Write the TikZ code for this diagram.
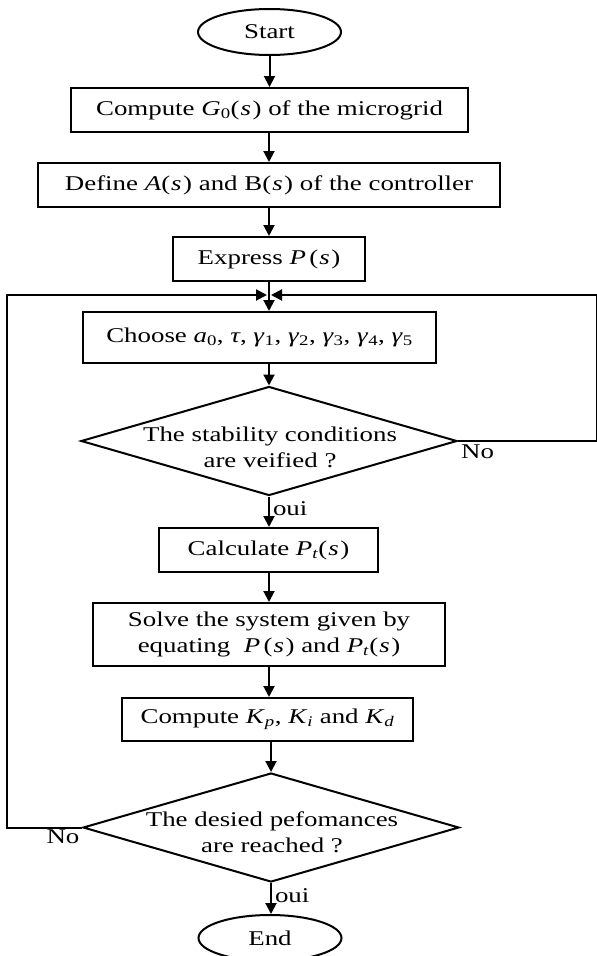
\documentclass[tikz,border=0pt]{standalone}
\usepackage{fontspec}
\setmainfont{Liberation Serif}[FakeStretch=1.28]
\usetikzlibrary{shapes.geometric,arrows.meta,calc}
\newcommand{\mi}[1]{\textit{#1}}
\newcommand{\sbs}[1]{\textsubscript{#1}}
\newcommand{\ofs}{(\kern1pt\mi{s}\kern1.5pt)}
\begin{document}
\begin{tikzpicture}[x=1pt,y=-1pt,
  every node/.style={font=\fontsize{21}{26}\selectfont},
  proc/.style={draw,line width=2pt,rectangle,inner sep=0pt,align=center},
  term/.style={draw,line width=2pt,ellipse,inner sep=0pt,minimum width=143pt,minimum height=46pt},
  decis/.style={draw,line width=2pt,diamond,shape aspect=3.45,inner sep=0pt,minimum width=376pt,minimum height=109pt},
  dtext/.style={inner sep=0pt,align=center},
  flow/.style={line width=2pt,-{Triangle[length=11pt,width=11pt]}},
  plain/.style={line width=2pt},
  lbl/.style={inner sep=0pt}]
\useasboundingbox (0,0) rectangle (597,956);
\node[term] (start) at (269.5,32) {Start};
\node[proc,minimum width=397pt,minimum height=44pt] (b1) at (269.5,110) {Compute \mi{G}\sbs{0}\ofs{} of the microgrid};
\node[proc,minimum width=462pt,minimum height=44pt] (b2) at (269,185) {Define \mi{A}\ofs{} and B\ofs{} of the controller};
\node[proc,minimum width=192pt,minimum height=44pt] (b3) at (269,259) {Express \mi{P}\,\ofs};
\coordinate (j) at (269,295);
\node[proc,minimum width=353pt,minimum height=51pt] (b4) at (259.5,337.5) {Choose \mi{a}\sbs{0}, \mi{τ}, \mi{γ}\sbs{1}, \mi{γ}\sbs{2}, \mi{γ}\sbs{3}, \mi{γ}\sbs{4}, \mi{γ}\sbs{5}};
\node[decis] (d1) at (269,441) {};
\node[dtext] (d1t) at (270,447) {The stability conditions\\are veified ?};
\node[proc,minimum width=219pt,minimum height=44pt] (b5) at (268.5,550) {Calculate \mi{P}\sbs{\mi{t}}\ofs};
\node[proc,minimum width=352pt,minimum height=63pt] (b6) at (269,634.5) {Solve the system given by\\equating \ \mi{P}\,\ofs{} and \mi{P}\sbs{\mi{t}}\ofs};
\node[proc,minimum width=291pt,minimum height=43pt] (b7) at (267.5,719.5) {Compute \mi{K}\sbs{\mi{p}}, \mi{K}\sbs{\mi{i}} and \mi{K}\sbs{\mi{d}}};
\node[decis] (d2) at (271,827.5) {};
\node[dtext] (d2t) at (272,832) {The desied pefomances\\are reached ?};
\node[term] (end) at (270,938) {End};
\coordinate (lc) at (7,295);
\coordinate (rc) at (597,295);
\coordinate (lb) at (7,827.5);
\coordinate (rb) at (597,441);
% main flow
\draw[flow] (start) -- (start |- b1.north);
\draw[flow] (b1.south -| j) -- (b2.north -| j);
\draw[flow] (b2.south -| j) -- (b3.north -| j);
\draw[plain] (b3.south -| j) -- (j);
\draw[flow] (j) -- (b4.north -| j);
\draw[flow] (b4.south -| d1.north) -- (d1.north);
\draw[flow] (d1.south) -- (d1.south |- b5.north) node[lbl,pos=0.4,right=3pt] {oui};
\draw[flow] (b5.south -| j) -- (b6.north -| j);
\draw[flow] (b6.south -| j) -- (b7.north -| j);
\draw[flow] (b7.south -| d2.north) -- (d2.north);
\draw[flow] (d2.south) -- (d2.south |- end.north) node[lbl,pos=0.4,right=3pt] {oui};
% loops
\draw[flow] (d1.east) -- (rb) -- (rc) -- ([xshift=2pt]j);
\draw[flow] (d2.west) -- (lb) -- (lc) -- ([xshift=-2pt]j);
\node[lbl,anchor=north west] (no1) at ([xshift=3pt,yshift=-4pt]d1.east) {No};
\node[lbl,anchor=north] (no2) at (63,830) {No};
\end{tikzpicture}
\end{document}
